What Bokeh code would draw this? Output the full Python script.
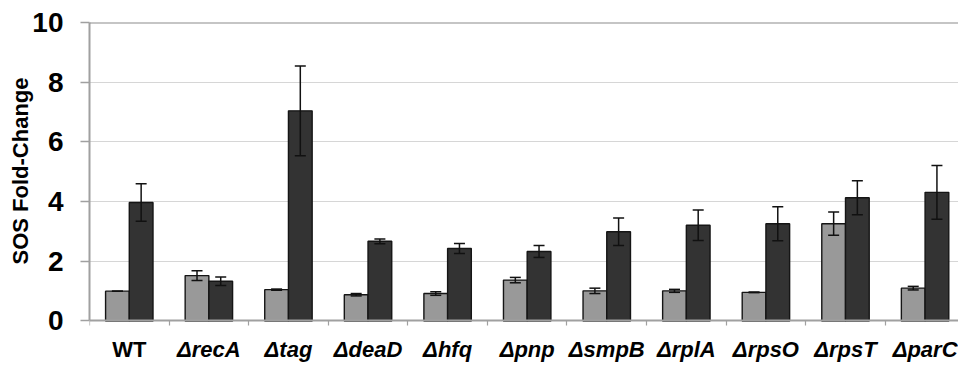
import numpy as np
from bokeh.plotting import figure
from bokeh.models import (Range1d, Whisker, ColumnDataSource, Span, Title,
                          FixedTicker, TeeHead, LinearAxis)
from bokeh.core.properties import value
from bokeh.embed import file_html
from bokeh.resources import INLINE

# ---- data ----
categories = ["WT", "\u0394recA", "\u0394tag", "\u0394deaD", "\u0394hfq", "\u0394pnp",
              "\u0394smpB", "\u0394rplA", "\u0394rpsO", "\u0394rpsT", "\u0394parC"]
light_vals = [1.00, 1.52, 1.05, 0.88, 0.92, 1.37, 1.01, 1.01, 0.96, 3.26, 1.10]
light_err = [0.00, 0.16, 0.02, 0.04, 0.06, 0.09, 0.09, 0.05, 0.01, 0.39, 0.06]
dark_vals = [3.97, 1.33, 7.04, 2.67, 2.43, 2.33, 2.99, 3.21, 3.26, 4.13, 4.31]
dark_err = [0.63, 0.14, 1.50, 0.08, 0.17, 0.20, 0.46, 0.51, 0.57, 0.57, 0.90]
y_ticks = [0, 2, 4, 6, 8, 10]
y_label = "SOS Fold-Change"

FONT = "Liberation Sans"
n = len(categories)
idx = np.arange(n) + 0.5
bw = 0.298

p = figure(width=958, height=369, x_range=Range1d(0, 10.92), y_range=Range1d(-1.625, 10),
           output_backend="svg", toolbar_location=None, x_axis_location=None,
           min_border_left=89, min_border_right=0, min_border_top=22, min_border_bottom=0)
p.outline_line_color = None
p.background_fill_color = "white"
p.border_fill_color = "white"

# grid
p.xgrid.visible = False
p.ygrid.grid_line_color = "#d6d6d6"
p.ygrid.grid_line_width = 1.2

# y axis
p.yaxis.ticker = FixedTicker(ticks=y_ticks)
p.yaxis.bounds = (0, 10)
p.yaxis.axis_line_color = "#a0a0a0"
p.yaxis.axis_line_width = 2
p.yaxis.major_tick_line_color = "#a0a0a0"
p.yaxis.major_tick_line_width = 1.5
p.yaxis.major_tick_out = 9
p.yaxis.major_tick_in = 0
p.yaxis.minor_tick_line_color = None
p.yaxis.major_label_standoff = 17
p.yaxis.major_label_text_font = FONT
p.yaxis.major_label_text_font_style = "bold"
p.yaxis.major_label_text_font_size = "28px"
p.yaxis.major_label_text_color = "black"

# y title (offset from top so it is centred on the 0-10 span)
p.add_layout(Title(text=y_label, align="right", offset=55, standoff=-6,
                   text_font=FONT, text_font_style="bold", text_font_size="22px",
                   text_color="black"), "left")

# x axis line at y = 0 with ticks between categories (minor ticks, no labels)
xa = LinearAxis(fixed_location=0,
                ticker=FixedTicker(ticks=[], minor_ticks=list(range(n + 1))))
xa.major_label_text_font_size = "0px"
xa.major_label_standoff = 0
xa.axis_line_color = "#a0a0a0"
xa.axis_line_width = 2
xa.major_tick_line_color = None
xa.minor_tick_line_color = "#a0a0a0"
xa.minor_tick_line_width = 1.2
xa.minor_tick_in = 5
xa.minor_tick_out = 0
p.add_layout(xa, "above")

# top line
p.add_layout(Span(location=10, dimension="width", line_color="#8c8c8c", line_width=2))

# bars
src_l = ColumnDataSource(dict(x=idx - bw / 2, top=light_vals,
                              upper=np.array(light_vals) + np.array(light_err),
                              lower=np.array(light_vals) - np.array(light_err)))
src_d = ColumnDataSource(dict(x=idx + bw / 2, top=dark_vals,
                              upper=np.array(dark_vals) + np.array(dark_err),
                              lower=np.array(dark_vals) - np.array(dark_err)))
p.vbar(x="x", top="top", bottom=0, width=bw, source=src_l,
       fill_color="#999999", line_color="#151515", line_width=1.4)
p.vbar(x="x", top="top", bottom=0, width=bw, source=src_d,
       fill_color="#333333", line_color="#151515", line_width=1.4)

for src in (src_l, src_d):
    w = Whisker(base="x", upper="upper", lower="lower", source=src,
                line_color="#111111", line_width=1.5, level="annotation",
                upper_head=TeeHead(size=11, line_color="#111111", line_width=1.5),
                lower_head=TeeHead(size=11, line_color="#111111", line_width=1.5))
    p.add_layout(w)

# category labels
lab_src = ColumnDataSource(dict(x=idx, y=[-0.96] * n, text=categories,
                                style=["bold"] + ["bold italic"] * (n - 1)))
p.text(x="x", y="y", text="text", source=lab_src, text_align="center",
       text_baseline="middle", text_font=value(FONT), text_font_size="22px",
       text_font_style="style", text_color="black")

open("out.html", "w").write(file_html(p, INLINE))
